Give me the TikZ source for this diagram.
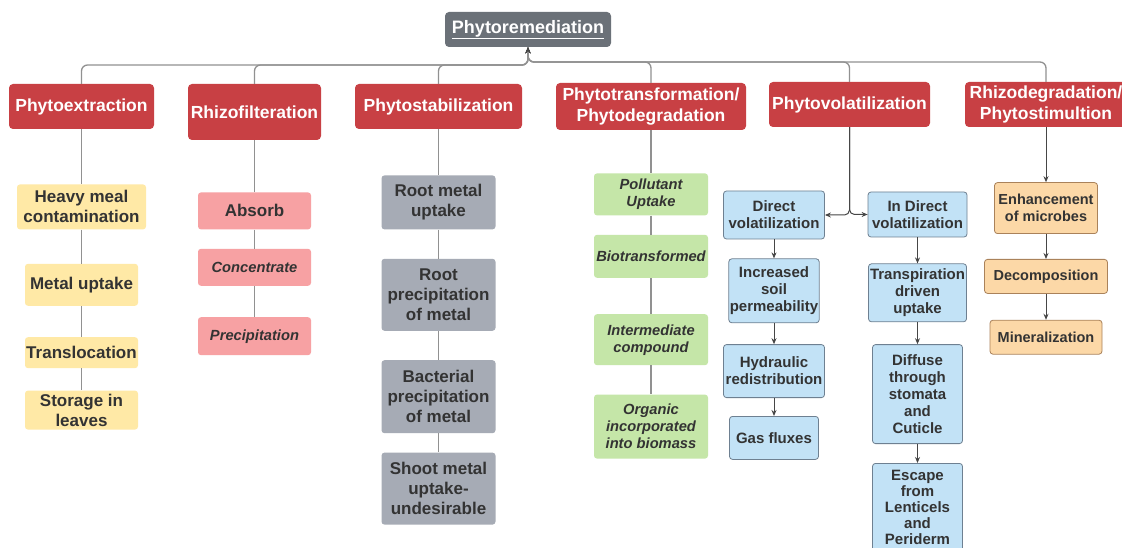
\documentclass[tikz,border=0pt]{standalone}
\usepackage{fontspec}
\setmainfont{Liberation Sans}
\usepackage{tikz}
\usetikzlibrary{positioning, arrows.meta}

\definecolor{catred}{RGB}{200,64,68}
\definecolor{titlegray}{RGB}{107,113,120}
\definecolor{yellowfill}{RGB}{255,233,166}
\definecolor{pinkfill}{RGB}{247,161,163}
\definecolor{grayfill}{RGB}{166,171,181}
\definecolor{greenfill}{RGB}{197,230,168}
\definecolor{bluefill}{RGB}{194,226,246}
\definecolor{blueline}{RGB}{110,128,145}
\definecolor{orangefill}{RGB}{252,216,167}
\definecolor{orangeline}{RGB}{170,130,90}
\definecolor{textdark}{RGB}{51,51,51}
\definecolor{linegray}{RGB}{145,145,145}
\definecolor{arrowdark}{RGB}{70,70,70}

\newcommand{\fsz}[2]{\fontsize{#1}{#2}\selectfont}
\tikzstyle{pointer} = [->, >={Stealth[length=6pt,width=5pt]}, draw=arrowdark, line width=1pt]

\begin{document}
\begin{tikzpicture}[
	x=1pt, y=-1pt,
	titlenode/.style={fill=titlegray, text=white, rounded corners=4pt, inner sep=1pt, font=\bfseries\fsz{18}{21}},
	catnode/.style={fill=catred, text=white, rounded corners=4pt, align=center, inner sep=1pt, font=\bfseries\fsz{17.5}{21}},
	stepbox/.style={rounded corners=3pt, align=center, text=textdark, inner sep=1pt},
	yellownode/.style={stepbox, fill=yellowfill, minimum width=113pt, font=\bfseries\fsz{17}{20}},
	pinknode/.style={stepbox, fill=pinkfill, minimum width=113pt, minimum height=37pt, font=\bfseries\fsz{17}{20}},
	graynode/.style={stepbox, fill=grayfill, minimum width=114pt, font=\bfseries\fsz{17}{20}},
	greennode/.style={stepbox, fill=greenfill, minimum width=114pt, font=\bfseries\itshape\fsz{14.7}{17}},
	bluenode/.style={stepbox, draw=blueline, fill=bluefill, line width=0.8pt, font=\bfseries\fsz{15}{17}},
	orangenode/.style={stepbox, draw=orangeline, fill=orangefill, line width=0.8pt, font=\bfseries\fsz{14.5}{17}},
	link/.style={draw=linegray, line width=1.3pt},
	toplink/.style={link, rounded corners=6pt, -{Stealth[length=6pt,width=5pt,color=arrowdark]}}
]
\useasboundingbox (0,0) rectangle (1122,548);
\fill[white] (0,0) rectangle (1122,548);
\clip (0,0) rectangle (1122,548);

% root and the six methods
\node[titlenode, minimum width=166pt, minimum height=35pt] (title) at (528,29.5) {\underline{Phytoremediation}};

\node[catnode, minimum width=145pt, minimum height=45pt] (pe) at (81.5,106.5) {Phytoextraction};
\node[catnode, minimum width=133pt, minimum height=56pt] (rf) at (254.5,112) {Rhizofilteration};
\node[catnode, minimum width=167pt, minimum height=45pt] (ps) at (438.5,106.5) {Phytostabilization};
\node[catnode, minimum width=190pt, minimum height=47pt] (pt) at (651,106.5) {Phytotransformation/\\Phytodegradation};
\node[catnode, minimum width=161pt, minimum height=45pt] (pv) at (849.5,104.5) {Phytovolatilization};
\node[catnode, minimum width=162pt, minimum height=45pt] (rd) at (1046,104.5) {Rhizodegradation/\\Phytostimultion};

\coordinate (hubL) at (528,65);
\coordinate (hubR) at (528,62);

% phytoextraction
\node[yellownode, minimum width=129pt, minimum height=45pt, below=55pt of pe] (y1) {Heavy meal\\contamination};
\node[yellownode, minimum height=42pt, below=34pt of y1] (y2) {Metal uptake};
\node[yellownode, minimum height=31pt, below=31pt of y2] (y3) {Translocation};
\node[yellownode, minimum height=39pt, below=22pt of y3] (y4) {Storage in\\leaves};

% rhizofilteration
\node[pinknode, below=52pt of rf] (r1) {Absorb};
\node[pinknode, below=19pt of r1, font=\bfseries\itshape\fsz{14.7}{17}] (r2) {Concentrate};
\node[pinknode, minimum height=38pt, below=31pt of r2, font=\bfseries\itshape\fsz{14.7}{17}] (r3) {Precipitation};

% phytostabilization
\node[graynode, minimum height=54pt, below=46pt of ps] (s1) {Root metal\\uptake};
\node[graynode, minimum height=72pt, below=29pt of s1] (s2) {Root\\precipitation\\of metal};
\node[graynode, minimum height=73pt, below=29pt of s2] (s3) {Bacterial\\precipitation\\of metal};
\node[graynode, minimum height=72pt, below=19pt of s3] (s4) {Shoot metal\\uptake-\\undesirable};

% phytotransformation
\node[greennode, minimum height=42pt, below=43pt of pt] (t1) {Pollutant\\Uptake};
\node[greennode, minimum height=43pt, below=19pt of t1] (t2) {Biotransformed};
\node[greennode, minimum height=51pt, below=36pt of t2] (t3) {Intermediate\\compound};
\node[greennode, minimum height=64pt, below=29pt of t3] (t4) {Organic\\incorporated\\into biomass};

% phytovolatilization
\node[bluenode, minimum width=101pt, minimum height=48pt] (d1) at (774,215) {Direct\\volatilization};
\node[bluenode, minimum width=89pt, minimum height=64pt, below=19pt of d1] (d2) {Increased\\soil\\permeability};
\node[bluenode, minimum width=101pt, minimum height=53pt, below=21pt of d2] (d3) {Hydraulic\\redistribution};
\node[bluenode, minimum width=89pt, minimum height=43pt, below=18pt of d3] (d4) {Gas fluxes};

\node[bluenode, minimum width=99pt, minimum height=45pt] (i1) at (917.5,214.5) {In Direct\\volatilization};
\node[bluenode, minimum width=98pt, minimum height=58pt, below=26pt of i1] (i2) {Transpiration\\driven\\uptake};
\node[bluenode, minimum width=90pt, minimum height=99pt, below=22pt of i2] (i3) {Diffuse\\through\\stomata\\and\\Cuticle};
\node[bluenode, minimum width=90pt, minimum height=88pt, below=19pt of i3, font=\bfseries\fsz{15}{16}] (i4) {Escape\\from\\Lenticels\\and\\Periderm};

% rhizodegradation
\node[orangenode, minimum width=103pt, minimum height=51pt, below=55pt of rd] (o1) {Enhancement\\of microbes};
\node[orangenode, minimum width=123pt, minimum height=34pt, below=25pt of o1] (o2) {Decomposition};
\node[orangenode, minimum width=112pt, minimum height=34pt, below=26pt of o2] (o3) {Mineralization};

% links up to the root
\draw[toplink] (pe.north) |- (hubL) -- (title.south);
\draw[toplink] (rf.north) |- (hubL) -- (title.south);
\draw[toplink] (ps.north) |- (hubL) -- (title.south);
\draw[toplink] (pt.north) |- (hubR) -- (title.south);
\draw[toplink] (pv.north) |- (hubR) -- (title.south);
\draw[toplink] (rd.north) |- (hubR) -- (title.south);

% plain chains
\draw[link] (pe) -- (y1);
\draw[link] (y1) -- (y2);
\draw[link] (y2) -- (y3);
\draw[link] (y3) -- (y4);

\draw[link] (rf) -- (r1);
\draw[link] (r1) -- (r2);
\draw[link] (r2) -- (r3);

\draw[link] (ps) -- (s1);
\draw[link] (s1) -- (s2);
\draw[link] (s2) -- (s3);
\draw[link] (s3) -- (s4);

\draw[link] (pt) -- (t1);
\draw[link] (t1) -- (t2);
\draw[link] (t2) -- (t3);
\draw[link] (t3) -- (t4);

% arrow chains
\draw[pointer, rounded corners=5pt] (pv.south) |- (d1.east);
\draw[pointer, rounded corners=5pt] (pv.south) |- (i1.west);
\draw[pointer] (d1) -- (d2);
\draw[pointer] (d2) -- (d3);
\draw[pointer] (d3) -- (d4);
\draw[pointer] (i1) -- (i2);
\draw[pointer] (i2) -- (i3);
\draw[pointer] (i3) -- (i4);

\draw[pointer] (rd) -- (o1);
\draw[pointer] (o1) -- (o2);
\draw[pointer] (o2) -- (o3);

\end{tikzpicture}
\end{document}
